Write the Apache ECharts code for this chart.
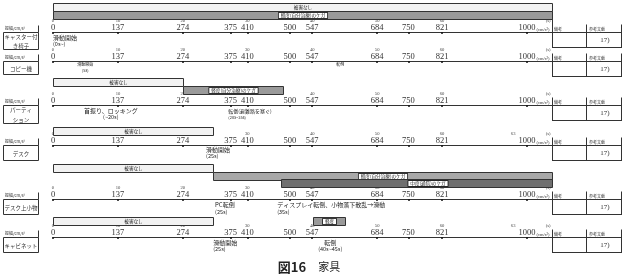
<!DOCTYPE html>
<html><head><meta charset="utf-8">
<script src="https://cdn.jsdelivr.net/npm/echarts@6.0.0/dist/echarts.min.js"></script>
<style>html,body{margin:0;padding:0;background:#fff;}#chart{width:625px;height:275px;}</style>
</head><body><div id="chart"></div>
<script>
// ---------------- data ----------------
const rowNames = ['キャスター付\nき椅子', 'コピー機', 'パーティ\nション', 'デスク', 'デスク上小物', 'キャビネット'];
const accelTicks = [0, 137, 274, 375, 410, 500, 547, 684, 750, 821, 1000];
const timeTickAt = [0, 137, 274, 410, 547, 684, 821];
const timeTickLabels = ['0', '10', '20', '30', '40', '50', '60'];
const extraTimeLabel = [null, null, null, '63', null, '63'];
const references = ['17)', '17)', '17)', '17)', '17)', '17)'];
const AXIS_END = 1053;

// damage bars per row: [from cm/s², to cm/s², lane, label, level]
const barsChair = [[0, 1053, 0, '被害なし', 0], [0, 1053, 1, '軽度(自分治療)のケガ', 1]];
const barsCopier = [];
const barsPartition = [[0, 274, 0, '被害なし', 0], [274, 485, 1, '軽度(自分治療)のケガ', 1]];
const barsDesk = [[0, 338, 0, '被害なし', 0]];
const barsDeskItems = [[0, 338, 0, '被害なし', 0], [338, 1053, 1, '軽度(自分治療)のケガ', 2], [481, 1053, 2, '中度(通院)のケガ', 3]];
const barsCabinet = [[0, 338, 0, '被害なし', 0], [548, 616, 0, '軽度', 1]];

// behaviour notes per row: [at cm/s², text, time]
const notesChair = [[0, '滑動開始', '(0s~)']];
const notesCopier = [[68, '滑動開始', '(5s)'], [606, '転倒', '']];
const notesPartition = [[122, '首振り、ロッキング', '(~20s)'], [370, '転倒(避難路を塞ぐ)', '(20s~35s)']];
const notesDesk = [[323, '滑動開始', '(25s)']];
const notesDeskItems = [[342, 'PC転倒', '(25s)'], [473, 'ディスプレイ転倒、小物落下散乱→滑動', '(35s)']];
const notesCabinet = [[338, '滑動開始', '(25s)'], [585, '転倒', '(40s~45s)']];

// ---------------- layout / style ----------------
const rowBars = [barsChair, barsCopier, barsPartition, barsDesk, barsDeskItems, barsCabinet];
const rowNotes = [notesChair, notesCopier, notesPartition, notesDesk, notesDeskItems, notesCabinet];
const L = {
  axisY: [32, 61, 105, 145, 199, 237],
  barTop: [3, 60, 78, 127, 164, 217],
  laneH: [7.5, 1, 8, 7.5, 7.5, 8],
  boxH: [17, 13, 18, 15, 15, 15]
};
const noteFmt = [
  [{align: 'left', fs1: 6, fs2: 5.5, dy1: 5.5, dy2: 11.5}],
  [{align: 'center', fs1: 4, fs2: 4, dy1: 3, dy2: 9.5}, {align: 'center', fs1: 4, fs2: 4, dy1: 3, dy2: 9.5}],
  [{align: 'center', fs1: 6, fs2: 5.5, dy1: 5.5, dy2: 11.5}, {align: 'left', fs1: 5, fs2: 4, dy1: 6, dy2: 12}],
  [{align: 'left', fs1: 6, fs2: 5.5, dy1: 5, dy2: 11}],
  [{align: 'left', fs1: 6, fs2: 5.5, dy1: 6, dy2: 12.5}, {align: 'left', fs1: 6, fs2: 5.5, dy1: 6, dy2: 12.5}],
  [{align: 'left', fs1: 6, fs2: 5.5, dy1: 6, dy2: 12}, {align: 'center', fs1: 6, fs2: 5.5, dy1: 6, dy2: 12}]
];
const labelShift = {'中度(通院)のケガ': 11};
const UNIT_AT = 1034, SEC_AT = 1045, EXTRA_AT = 971;
const levelFill = ['#f2f2f2', '#9a9a9a', '#a8a8a8', '#6f6f6f'];
const JP = '"Noto Sans CJK JP"';
const SERIF = '"Liberation Serif"';

const grid = [], xAxis = [], yAxis = [], series = [], graphic = [];

rowNames.forEach((name, i) => {
  const bars = rowBars[i];
  const nl = Math.max(1, ...bars.map(b => b[2] + 1));
  const h = bars.length ? nl * L.laneH[i] : 1;
  const top = bars.length ? L.barTop[i] : L.axisY[i] - 1;
  const off = L.axisY[i] - (top + h);
  grid.push({left: 53, right: 73, top: top, height: h});

  const timeVals = timeTickAt.slice();
  const timeMap = {};
  timeTickAt.forEach((v, k) => timeMap[v] = timeTickLabels[k]);
  if (extraTimeLabel[i]) { timeVals.push(EXTRA_AT); timeMap[EXTRA_AT] = extraTimeLabel[i]; }
  timeVals.push(SEC_AT); timeMap[SEC_AT] = '(s)';

  xAxis.push({
    gridIndex: i, type: 'value', min: 0, max: AXIS_END, position: 'bottom', offset: off,
    axisLine: {show: true, lineStyle: {color: '#333', width: 1}},
    axisTick: {show: true, customValues: accelTicks, length: 2, lineStyle: {color: '#111', width: 1.5}},
    axisLabel: {
      inside: true, margin: 0, customValues: accelTicks.concat([UNIT_AT]),
      formatter: v => v === UNIT_AT ? '{u|(cm/s²)}' : String(v),
      fontFamily: SERIF, fontSize: 8.5, color: '#333',
      rich: {u: {fontSize: 4.5, fontFamily: SERIF, color: '#333'}}
    },
    splitLine: {show: false}
  });
  xAxis.push({
    gridIndex: i, type: 'value', min: 0, max: AXIS_END, position: 'bottom', offset: off,
    axisLine: {show: false}, axisTick: {show: false}, splitLine: {show: false},
    axisLabel: {
      inside: true, margin: 8.5, customValues: timeVals,
      formatter: v => timeMap[v] || '',
      fontFamily: SERIF, fontSize: 4.6, color: '#444'
    }
  });
  const lanes = [];
  for (let k = 0; k < nl; k++) lanes.push(String(k));
  yAxis.push({gridIndex: i, type: 'category', inverse: true, data: lanes, show: false});

  if (bars.length) {
    series.push({
      type: 'custom', xAxisIndex: 2 * i, yAxisIndex: i, silent: true,
      encode: {x: [0, 1], y: 2},
      data: bars.map(b => [b[0], b[1], b[2]]),
      renderItem: (params, api) => {
        const b = bars[params.dataIndex];
        const p0 = api.coord([b[0], b[2]]);
        const p1 = api.coord([b[1], b[2]]);
        const bh = api.size([0, 1])[1];
        const x0 = Math.round(p0[0]) + 0.5, x1 = Math.round(p1[0]) + 0.5;
        const y = Math.round(p0[1] - bh / 2) + 0.5;
        const boxed = b[4] > 0;
        return {type: 'group', children: [
          {type: 'rect', shape: {x: x0, y: y, width: x1 - x0, height: Math.round(bh)},
           style: {fill: levelFill[b[4]], stroke: '#333', lineWidth: 1}},
          {type: 'text', style: {
            text: b[3], x: (x0 + x1) / 2 + (labelShift[b[3]] || 0), y: y + Math.round(bh) / 2, align: 'center', verticalAlign: 'middle',
            fontSize: 4.6, fontFamily: JP, fill: '#222',
            backgroundColor: boxed ? '#fff' : 'transparent', borderColor: boxed ? '#111' : 'transparent',
            borderWidth: boxed ? 0.8 : 0, padding: boxed ? [0.5, 2, 0, 2] : 0
          }}
        ]};
      }
    });
  }

  const notes = rowNotes[i];
  series.push({
    type: 'custom', xAxisIndex: 2 * i, yAxisIndex: i, silent: true,
    encode: {x: 0, y: 1},
    data: notes.map(n => [n[0], 0]),
    renderItem: (params, api) => {
      const n = notes[params.dataIndex];
      const f = noteFmt[i][params.dataIndex];
      const x = api.coord([n[0], 0])[0];
      return {type: 'group', children: [
        {type: 'text', style: {text: n[1], x: x, y: L.axisY[i] + f.dy1, align: f.align, verticalAlign: 'middle',
          fontSize: f.fs1, fontFamily: JP, fill: '#222'}},
        {type: 'text', style: {text: n[2], x: x, y: L.axisY[i] + f.dy2, align: f.align, verticalAlign: 'middle',
          fontSize: f.fs2, fontFamily: JP, fill: '#222'}}
      ]};
    }
  });

  // left name box
  const ay = L.axisY[i] + 0.5, bh = L.boxH[i];
  graphic.push({type: 'rect', shape: {x: 3.5, y: ay, width: 35, height: bh}, style: {fill: 'none', stroke: '#333', lineWidth: 1}});
  graphic.push({type: 'line', shape: {x1: 38.5, y1: ay - 7, x2: 38.5, y2: ay}, style: {stroke: '#333', lineWidth: 1}});
  graphic.push({type: 'text', style: {text: '振幅/cm/s²', x: 5, y: ay - 4, verticalAlign: 'middle', fontSize: 4, fontFamily: JP, fill: '#333'}});
  graphic.push({type: 'text', style: {text: name, x: 21, y: ay + bh / 2 + 0.5, align: 'center', verticalAlign: 'middle',
    fontSize: 5.5, lineHeight: 9.5, fontFamily: JP, fill: '#333'}});

  // right remarks / reference box
  const rTop = i === 0 ? 18 : ay - 8, rBot = L.axisY[i] + 15.5;
  graphic.push({type: 'line', shape: {x1: 552.5, y1: rTop, x2: 552.5, y2: rBot}, style: {stroke: '#333', lineWidth: 1}});
  graphic.push({type: 'line', shape: {x1: 586.5, y1: ay - 8, x2: 586.5, y2: rBot}, style: {stroke: '#333', lineWidth: 1}});
  graphic.push({type: 'line', shape: {x1: 621.5, y1: ay - 8, x2: 621.5, y2: rBot}, style: {stroke: '#333', lineWidth: 1}});
  graphic.push({type: 'line', shape: {x1: 552, y1: rBot, x2: 622, y2: rBot}, style: {stroke: '#333', lineWidth: 1}});
  graphic.push({type: 'line', shape: {x1: 552, y1: ay, x2: 622, y2: ay}, style: {stroke: '#333', lineWidth: 1}});
  graphic.push({type: 'text', style: {text: '備考', x: 554, y: ay - 3, verticalAlign: 'middle', fontSize: 4, fontFamily: JP, fill: '#333'}});
  graphic.push({type: 'text', style: {text: '参考文献', x: 589, y: ay - 3, verticalAlign: 'middle', fontSize: 4, fontFamily: JP, fill: '#333'}});
  graphic.push({type: 'text', style: {text: references[i], x: 605, y: ay + 8, align: 'center', verticalAlign: 'middle', fontSize: 7, fontFamily: SERIF, fill: '#333'}});
});

graphic.push({type: 'text', style: {
  text: '{a|図16}　{b|家具}', x: 309, y: 267, align: 'center', verticalAlign: 'middle',
  rich: {a: {fontSize: 13, fontWeight: 'bold', fontFamily: JP, fill: '#222'}, b: {fontSize: 11, fontFamily: JP, fill: '#222'}}
}});

const chart = echarts.init(document.getElementById('chart'), null, {renderer: 'canvas'});
chart.setOption({animation: false, backgroundColor: '#fff', grid, xAxis, yAxis, series, graphic});
</script></body></html>
